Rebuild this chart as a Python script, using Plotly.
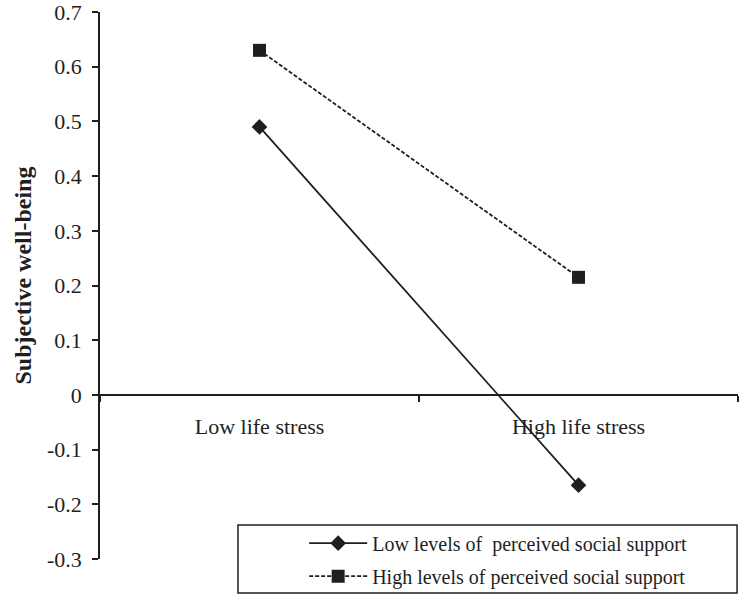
import plotly.graph_objects as go

categories = ["Low life stress", "High life stress"]
low_support = [0.49, -0.165]
high_support = [0.63, 0.215]
series_names = ["Low levels of  perceived social support",
                "High levels of perceived social support"]
y_ticks = [-0.3, -0.2, -0.1, 0, 0.1, 0.2, 0.3, 0.4, 0.5, 0.6, 0.7]
y_ticklabels = ["-0.3", "-0.2", "-0.1", "0", "0.1", "0.2", "0.3", "0.4", "0.5", "0.6", "0.7"]

FONT = "Liberation Serif, Times New Roman, serif"
INK = "#1f1f1f"

fig = go.Figure()
fig.add_trace(go.Scatter(
    x=categories, y=low_support, name=series_names[0], mode="lines+markers",
    legendgroup="a",
    line=dict(color=INK, width=1.8, dash="solid"),
    marker=dict(symbol="diamond", size=12, color=INK),
))
fig.add_trace(go.Scatter(
    x=categories, y=high_support, name=series_names[1], mode="lines+markers",
    legendgroup="b",
    line=dict(color=INK, width=1.8, dash="4px,2px"),
    marker=dict(symbol="square", size=13, color=INK),
))

fig.update_layout(
    width=739, height=595,
    margin=dict(l=100, r=1, t=12, b=36, autoexpand=False),
    paper_bgcolor="white", plot_bgcolor="white",
    font=dict(family=FONT, color=INK),
    showlegend=True,
    legend=dict(
        x=0.32, y=-0.067, xanchor="left", yanchor="bottom",
        bgcolor="rgba(0,0,0,0)", borderwidth=0,
        font=dict(family=FONT, size=20, color=INK),
        itemwidth=58, tracegroupgap=4,
    ),
    shapes=[dict(
        type="rect", xref="paper", yref="paper",
        x0=0.2163, x1=0.9985, y0=-0.0622, y1=0.0622,
        line=dict(color=INK, width=1.5), fillcolor="white", layer="below",
    )],
    xaxis=dict(
        type="category", range=[-0.5, 1.5],
        showline=True, linecolor=INK, linewidth=1.5,
        anchor="free", position=0.3,
        ticks="outside", tickson="boundaries", ticklen=6, tickcolor=INK, tickwidth=1.5,
        showgrid=False, zeroline=False,
        tickfont=dict(family=FONT, size=22, color=INK),
        ticklabelstandoff=12,
    ),
    yaxis=dict(
        range=[-0.3, 0.7001], tickvals=y_ticks, ticktext=y_ticklabels,
        showline=True, linecolor=INK, linewidth=1.5,
        ticks="outside", ticklen=6, tickcolor=INK, tickwidth=1.5,
        showgrid=False, zeroline=False,
        tickfont=dict(family=FONT, size=22, color=INK),
        ticklabelstandoff=6, ticklabeloverflow="allow",
    ),
    annotations=[dict(
        text="<b>Subjective well-being</b>", textangle=-90,
        xref="paper", yref="paper", x=-0.12, y=0.519,
        xanchor="center", yanchor="middle", showarrow=False,
        font=dict(family=FONT, size=24, color=INK),
    )],
)

fig.write_html("out.html", config={"displayModeBar": False},
               post_script="document.body.style.margin='0';")
